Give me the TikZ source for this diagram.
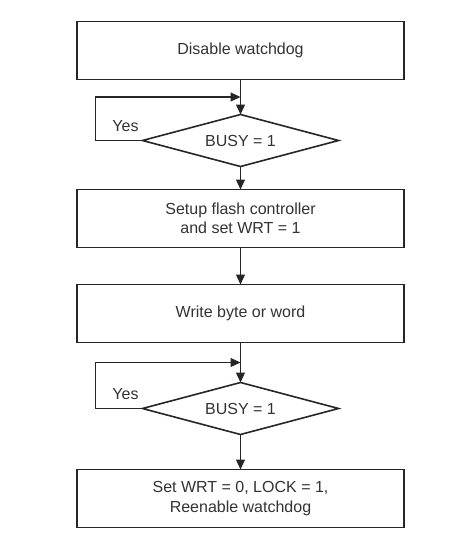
\documentclass[tikz,border=0pt]{standalone}
\usepackage{fontspec}
\setmainfont{Liberation Sans}
\usepackage{tikz}
\usetikzlibrary{arrows.meta,positioning,calc,shapes.geometric}
\tikzset{
  chart/.style={draw=black!85, line width=1.6pt, align=center, inner sep=4pt, outer sep=0pt, fill=white, text=black!80, font=\fontsize{16}{19.5}\selectfont},
  stepbox/.style={chart, minimum width=327pt, minimum height=58pt},
  test/.style={chart, diamond, aspect=3.8, minimum width=196pt, minimum height=52pt, inner sep=0pt},
  line/.style={-{Triangle[length=10pt,width=9pt]}, line width=1.2pt, draw=black!85},
  answer/.style={inner sep=0pt, text=black!80, font=\fontsize{16}{19.5}\selectfont}
}

\begin{document}
\begin{tikzpicture}[x=1pt, y=1pt]
\useasboundingbox (0,0) rectangle (455,-543);

\node (dis) [stepbox] at (240.5,-50.5) {Disable watchdog};

\node (busy1) [test, below=35pt of dis] {BUSY = 1};

\node (setup) [stepbox, below=23pt of busy1]
{Setup flash controller\\and set WRT = 1};

\node (write) [stepbox, below=37pt of setup] {Write byte or word};

\node (busy2) [test, below=40pt of write] {BUSY = 1};

\node (reen) [stepbox, below=35pt of busy2]
{Set WRT = 0, LOCK = 1,\\Reenable watchdog};

\foreach \upper/\lower in {dis/busy1, busy1/setup, setup/write, write/busy2, busy2/reen}{
  \draw[line] (\upper.south) -- (\lower.north);
}

% wait while busy
\foreach \busy/\before in {busy1/dis, busy2/write}{
  \coordinate (\busy-in) at ($(\before.south)!0.5!(\busy.north)$);
  \draw[line] (\busy.west) -- ++(-47,0) |- (\busy-in);
  \node (\busy-yes) [answer] at ([shift={(-17,14)}]\busy.west) {Yes};
}

\end{tikzpicture}
\end{document}
